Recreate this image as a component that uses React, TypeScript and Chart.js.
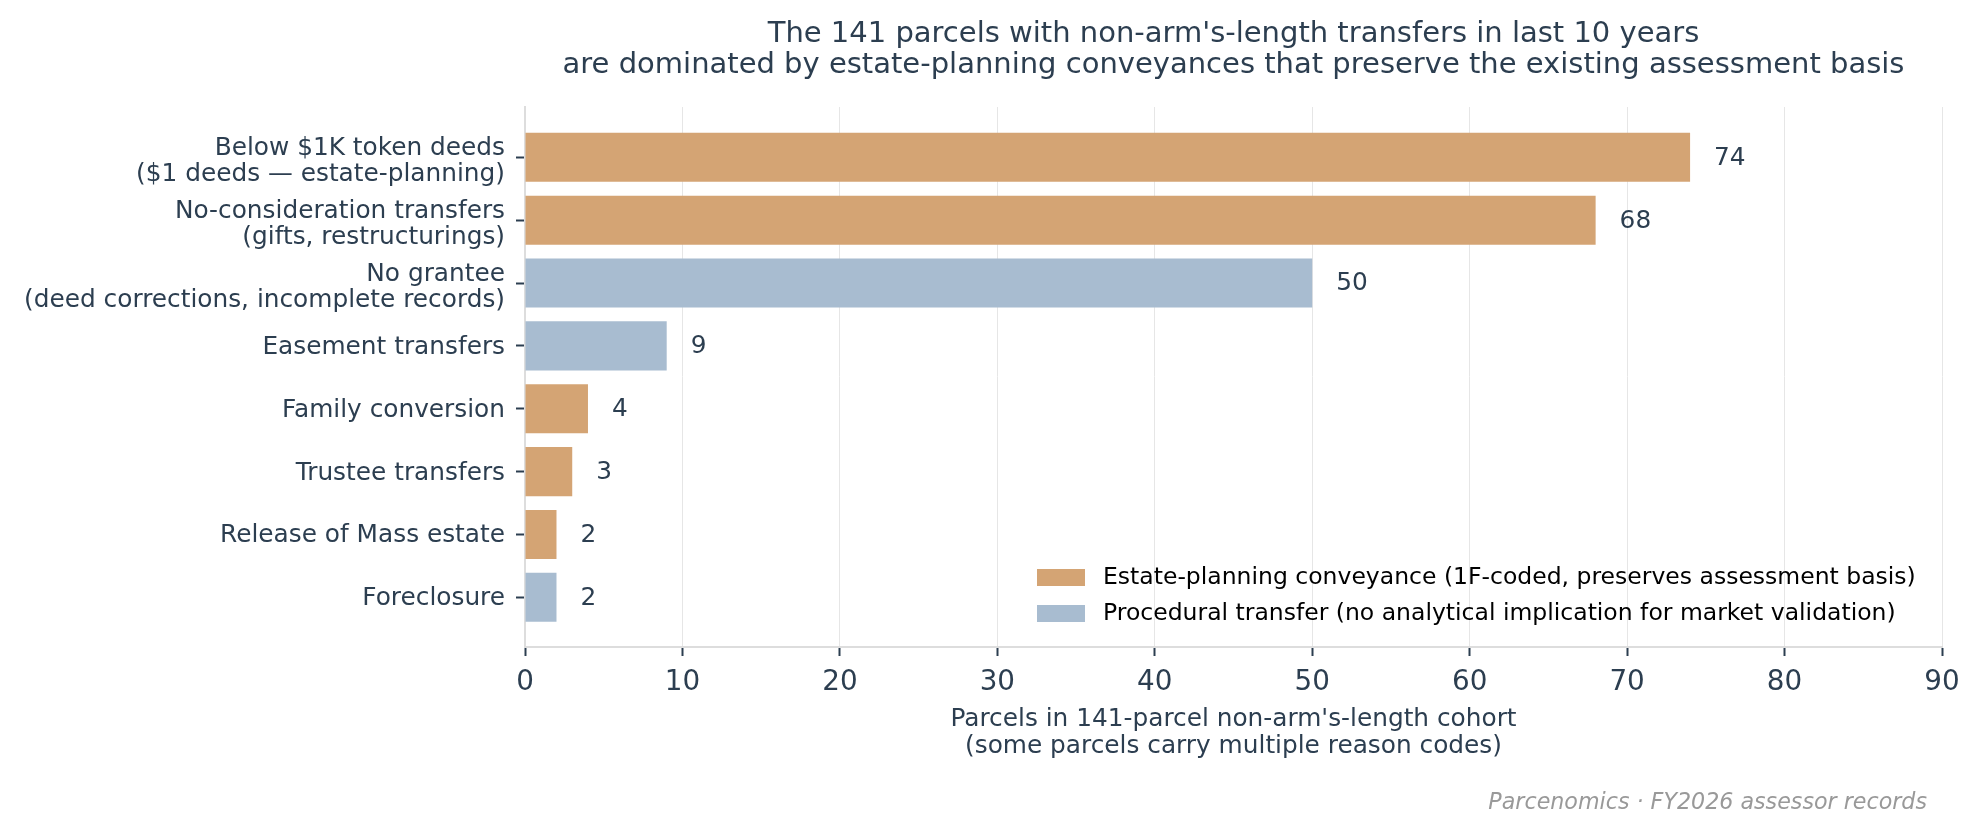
import React, { useEffect, useRef } from 'react';
import { Chart, registerables } from 'chart.js';

Chart.register(...registerables);

const categories = [
  "Below $1K token deeds\n($1 deeds — estate-planning)",
  "No-consideration transfers\n(gifts, restructurings)",
  "No grantee\n(deed corrections, incomplete records)",
  "Easement transfers",
  "Family conversion",
  "Trustee transfers",
  "Release of Mass estate",
  "Foreclosure",
];
const values = [74, 68, 50, 9, 4, 3, 2, 2];
const kinds = ["estate", "estate", "procedural", "procedural", "estate", "estate", "estate", "procedural"];
const seriesKeys = ["estate", "procedural"];
const seriesLabels = [
  "Estate-planning conveyance (1F-coded, preserves assessment basis)",
  "Procedural transfer (no analytical implication for market validation)",
];
const seriesColors = ["#d4a474", "#a8bcd0"];
const xTicks = [0, 10, 20, 30, 40, 50, 60, 70, 80, 90];
const titleLines = [
  "The 141 parcels with non-arm's-length transfers in last 10 years",
  "are dominated by estate-planning conveyances that preserve the existing assessment basis",
];
const xTitleLines = [
  "Parcels in 141-parcel non-arm's-length cohort",
  "(some parcels carry multiple reason codes)",
];
const footerText = "Parcenomics · FY2026 assessor records";

const W = 1979;
const H = 834;
const INK = "#2c3e50";
const FONT = "'DejaVu Sans', sans-serif";

const textPlugin = {
  id: 'customText',
  afterDraw(chart: any) {
    const ctx = chart.ctx;
    const area = chart.chartArea;
    const cx = (area.left + area.right) / 2;
    ctx.save();
    // title
    ctx.fillStyle = INK;
    ctx.font = `29px ${FONT}`;
    ctx.textAlign = 'center';
    ctx.textBaseline = 'middle';
    titleLines.forEach((t, i) => ctx.fillText(t, cx, 34 + i * 31.5));
    // x axis title
    ctx.font = `24.8px ${FONT}`;
    xTitleLines.forEach((t, i) => ctx.fillText(t, cx, area.bottom + 73 + i * 27));
    // y category labels
    const ys = chart.scales.y;
    ctx.textAlign = 'right';
    categories.forEach((c, i) => {
      const lines = c.split('\n');
      const n = lines.length;
      const y0 = ys.getPixelForValue(i);
      lines.forEach((ln, k) => {
        ctx.fillText(ln, area.left - 20, y0 + 1.5 + (n - 1) * 2.8 + (k - (n - 1) / 2) * 26.5);
      });
    });
    // footer
    ctx.fillStyle = '#999999';
    ctx.font = `italic 22.2px ${FONT}`;
    ctx.textAlign = 'right';
    ctx.fillText(footerText, W - 52, 803);
    // value labels
    ctx.fillStyle = INK;
    ctx.font = `24.8px ${FONT}`;
    ctx.textAlign = 'left';
    chart.data.datasets.forEach((ds: any, di: number) => {
      const meta = chart.getDatasetMeta(di);
      meta.data.forEach((el: any, j: number) => {
        const v = ds.data[j].x;
        ctx.fillText(String(v), el.x + 24, el.y + 1);
      });
    });
    // legend
    ctx.font = `23.5px ${FONT}`;
    seriesLabels.forEach((lab, i) => {
      const y = 577.5 + i * 36;
      ctx.fillStyle = seriesColors[i];
      ctx.fillRect(1037, y - 8.5, 48, 17);
      ctx.fillStyle = '#000000';
      ctx.fillText(lab, 1103, y);
    });
    ctx.restore();
  },
};

export default function App() {
  const ref = useRef<HTMLCanvasElement | null>(null);
  useEffect(() => {
    if (!ref.current) return;
    const datasets = seriesKeys.map((k, si) => ({
      label: seriesLabels[si],
      data: values
        .map((v, i) => ({ x: v, y: i }))
        .filter((_, i) => kinds[i] === k),
      backgroundColor: seriesColors[si],
      borderColor: seriesColors[si],
      borderWidth: 0,
      grouped: false,
      barPercentage: 0.78,
      categoryPercentage: 1,
    }));
    const chart = new Chart(ref.current, {
      type: 'bar',
      data: { datasets },
      options: {
        indexAxis: 'y',
        animation: false,
        responsive: false,
        devicePixelRatio: 1,
        layout: { padding: { top: 107, right: 37, left: 0, bottom: 0 } },
        plugins: {
          legend: { display: false },
          tooltip: { enabled: false },
          title: { display: false },
        },
        scales: {
          x: {
            type: 'linear',
            min: 0,
            max: 90,
            offset: false,
            afterBuildTicks: (axis: any) => {
              axis.ticks = xTicks.map((v) => ({ value: v }));
            },
            afterFit: (s: any) => {
              s.height = H - 647;
            },
            grid: {
              offset: false,
              color: '#e6e6e6',
              lineWidth: 1,
              drawTicks: true,
              tickLength: 9,
              tickColor: INK,
              tickWidth: 2,
            },
            border: { display: true, color: '#dddddd', width: 2 },
            ticks: {
              color: INK,
              font: { family: FONT, size: 27.8 },
              padding: 10,
              maxRotation: 0,
              autoSkip: false,
            },
          },
          y: {
            type: 'linear',
            reverse: true,
            offset: false,
            min: -0.8,
            max: 7.79,
            afterBuildTicks: (axis: any) => {
              axis.ticks = categories.map((_, i) => ({ value: i }));
            },
            afterFit: (s: any) => {
              s.width = 525;
            },
            grid: {
              offset: false,
              drawOnChartArea: false,
              drawTicks: true,
              tickLength: 9,
              tickColor: INK,
              tickWidth: 2,
            },
            border: { display: true, color: '#dddddd', width: 2 },
            ticks: {
              display: false,
              autoSkip: false,
            },
          },
        },
      },
      plugins: [textPlugin],
    });
    return () => chart.destroy();
  }, []);
  return (
    <div style={{ position: 'fixed', left: 0, top: 0, width: W, height: H, background: '#ffffff' }}>
      <canvas ref={ref} width={W} height={H} style={{ display: 'block', width: W, height: H }} />
    </div>
  );
}
